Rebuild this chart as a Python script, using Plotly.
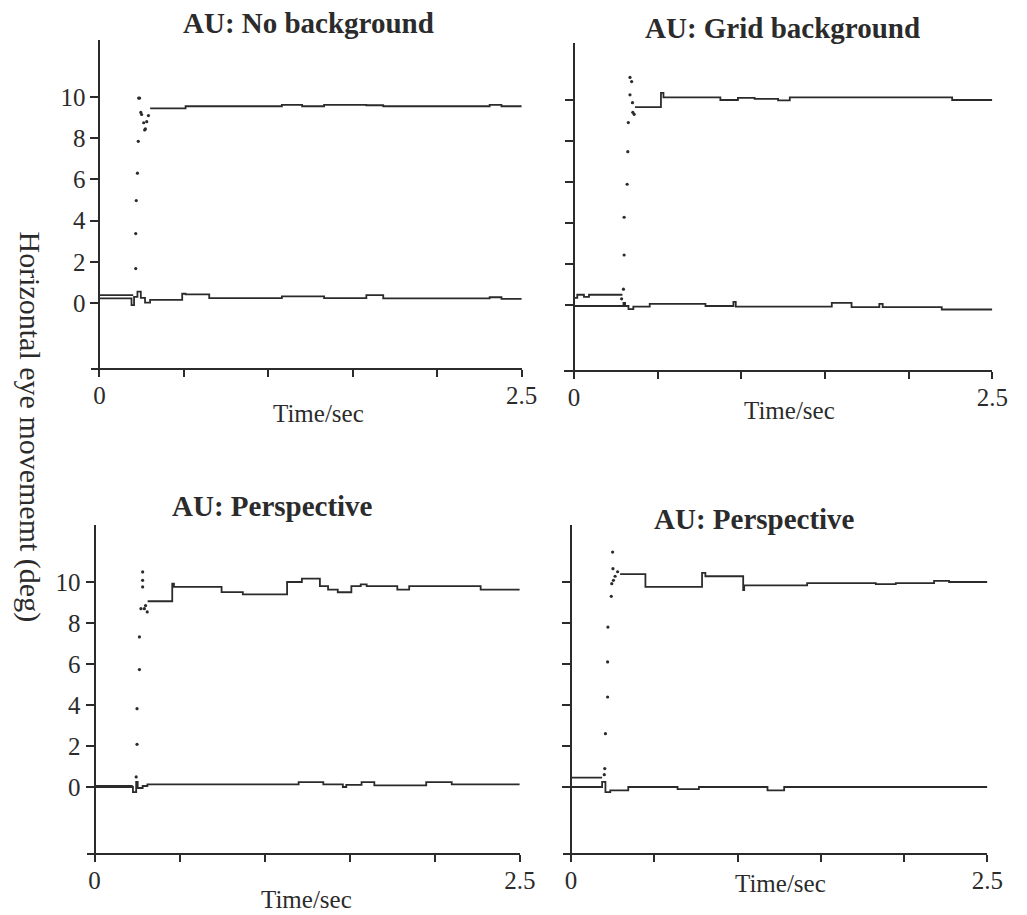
import plotly.graph_objects as go

# ---- data ----
# each panel: upper trace (target eye, jumps to ~10 deg), saccade samples, lower trace (~0 deg)

nb_up_t = [0.0, 0.20, None, 0.30, 0.51, 1.08, 1.20, 1.33, 1.58, 1.68, 2.31, 2.38, 2.5]
nb_up_v = [0.38, 0.38, None, 9.45, 9.55, 9.62, 9.55, 9.62, 9.6, 9.55, 9.62, 9.55, 9.55]
nb_sac_t = [0.215, 0.215, 0.218, 0.225, 0.23, 0.232, 0.238, 0.245, 0.25, 0.262, 0.268, 0.272, 0.28, 0.29]
nb_sac_v = [1.67, 3.37, 4.97, 6.3, 7.85, 9.95, 9.95, 9.25, 9.15, 8.75, 8.4, 8.45, 8.8, 9.1]
nb_lo_t = [0.0, 0.19, 0.205, 0.225, 0.245, 0.27, 0.30, 0.49, 0.51, 0.65, 1.08, 1.33, 1.58, 1.68, 2.31, 2.38, 2.5]
nb_lo_v = [0.22, -0.1, 0.3, 0.55, 0.25, 0.02, 0.15, 0.45, 0.42, 0.24, 0.32, 0.24, 0.38, 0.22, 0.28, 0.2, 0.2]

grid_up_t = [0.0, 0.02, 0.06, 0.09, 0.29, None, 0.365, 0.52, 0.535, 0.875, 0.98, 1.08, 1.22, 1.29, 2.26, 2.5]
grid_up_v = [0.35, 0.5, 0.4, 0.5, 0.5, None, 9.65, 10.35, 10.13, 10.0, 10.1, 10.05, 9.98, 10.13, 10.0, 10.0]
grid_sac_t = [0.285, 0.296, 0.30, 0.30, 0.318, 0.322, 0.325, 0.335, 0.345, 0.335, 0.35, 0.352, 0.36]
grid_sac_v = [0.3, 0.77, 2.44, 4.28, 5.89, 7.48, 8.9, 10.25, 10.9, 11.1, 9.87, 9.4, 9.3]
grid_lo_t = [0.0, 0.296, 0.306, 0.326, 0.355, 0.453, 0.786, 0.953, 0.967, 1.541, 1.659, 1.825, 1.845, 2.198, 2.5]
grid_lo_v = [-0.05, 0.1, -0.05, -0.2, -0.08, 0.05, -0.05, 0.15, -0.08, 0.1, -0.1, 0.05, -0.1, -0.22, -0.22]

pa_up_t = [0.0, 0.225, None, 0.3125, 0.457, 0.467, 0.747, 0.872, 1.132, 1.219, 1.325, 1.373, 1.43, 1.51, 1.565, 1.6, 1.78, 1.85, 2.27, 2.5]
pa_up_v = [0.05, 0.05, None, 9.06, 9.92, 9.76, 9.51, 9.4, 10.0, 10.16, 9.8, 9.63, 9.5, 9.8, 9.88, 9.8, 9.63, 9.8, 9.63, 9.63]
pa_sac_t = [0.245, 0.25, 0.25, 0.264, 0.264, 0.283, 0.283, 0.283, 0.273, 0.293, 0.31, 0.30]
pa_sac_v = [0.49, 2.08, 3.82, 5.73, 7.32, 10.49, 10.08, 9.76, 8.7, 8.7, 8.54, 8.85]
pa_lo_t = [0.0, 0.226, 0.245, 0.254, 0.283, 0.311, 1.2, 1.345, 1.46, 1.48, 1.57, 1.645, 1.95, 2.1, 2.5]
pa_lo_v = [0.0, -0.25, 0.25, -0.05, 0.05, 0.13, 0.24, 0.13, 0.0, 0.1, 0.24, 0.08, 0.24, 0.13, 0.13]

pb_up_t = [0.0, 0.187, None, 0.295, 0.447, 0.787, 0.807, 1.034, 1.04, 1.418, 1.83, 1.95, 2.18, 2.27, 2.5]
pb_up_v = [0.46, 0.46, None, 10.38, 9.76, 10.45, 10.28, 9.6, 9.84, 9.95, 9.9, 9.95, 10.05, 10.0, 10.0]
pb_sac_t = [0.2, 0.203, 0.207, 0.22, 0.22, 0.222, 0.242, 0.245, 0.252, 0.25, 0.255, 0.265, 0.28]
pb_sac_v = [0.6, 0.9, 2.6, 4.39, 6.1, 7.8, 9.3, 9.92, 10.65, 11.46, 10.08, 10.28, 10.5]
pb_lo_t = [0.0, 0.187, 0.207, 0.236, 0.344, 0.64, 0.768, 1.18, 1.28, 2.5]
pb_lo_v = [0.0, 0.25, -0.25, -0.16, 0.0, -0.1, 0.0, -0.16, 0.0, 0.0]

panel_titles = ["AU: No background", "AU: Grid background", "AU: Perspective", "AU: Perspective"]
y_ticks = [0, 2, 4, 6, 8, 10]
x_ticks = [0, 0.5, 1.0, 1.5, 2.0, 2.5]
x_ticktext = ["0", "", "", "", "", "2.5"]
x_title = "Time/sec"
y_title = "Horizontal eye movememt (deg)"

panels = [
    (nb_up_t, nb_up_v, nb_sac_t, nb_sac_v, nb_lo_t, nb_lo_v),
    (grid_up_t, grid_up_v, grid_sac_t, grid_sac_v, grid_lo_t, grid_lo_v),
    (pa_up_t, pa_up_v, pa_sac_t, pa_sac_v, pa_lo_t, pa_lo_v),
    (pb_up_t, pb_up_v, pb_sac_t, pb_sac_v, pb_lo_t, pb_lo_v),
]

# ---- layout in pixels ----
W, H = 1027, 915
INK = "#2b2b2b"
FONT = "Liberation Serif, Times New Roman, serif"

# (x-axis left end, y-axis x, x-axis right end, axis top, axis bottom, y at 0, y at 10)
boxes = [
    (92, 101, 530, 40, 368, 303, 97),
    (573, 583, 1008, 43, 370, 305, 100),
    (88, 96, 528, 525, 853, 787, 582),
    (572, 580, 1003, 525, 853, 787, 582),
]
title_pos = [(313, 23), (795, 28), (277, 506), (766, 519)]
xtitle_pos = [(324, 413), (802, 410), (311, 899), (793, 883)]


def px(x):
    return x / W


def py(y):
    return 1 - y / H


fig = go.Figure()

for i, (up_t, up_v, sac_t, sac_v, lo_t, lo_v) in enumerate(panels):
    xa = "x" if i == 0 else "x%d" % (i + 1)
    ya = "y" if i == 0 else "y%d" % (i + 1)
    for t, v in [(lo_t, lo_v), (up_t, up_v)]:
        fig.add_trace(
            go.Scatter(
                x=t, y=v, xaxis=xa, yaxis=ya,
                mode="lines", line=dict(color=INK, width=1.8, shape="hv"),
                connectgaps=False, showlegend=False, hoverinfo="skip",
            )
        )
    # saccade samples drawn as loose dots
    fig.add_trace(
        go.Scatter(
            x=sac_t, y=sac_v, xaxis=xa, yaxis=ya,
            mode="markers", marker=dict(color=INK, size=3.2),
            showlegend=False, hoverinfo="skip",
        )
    )

layout = dict(
    width=W, height=H,
    margin=dict(l=0, r=0, t=0, b=0),
    paper_bgcolor="white", plot_bgcolor="white",
    font=dict(family=FONT, color=INK, size=25),
    showlegend=False,
)

annotations = []
for i, (xl, yx, xr, top, bot, y0, y10) in enumerate(boxes):
    k = "" if i == 0 else str(i + 1)
    ppu_x = (xr - yx) / 2.5
    ppu_y = (y0 - y10) / 10.0
    layout["xaxis" + k] = dict(
        domain=[px(xl), px(xr)],
        range=[-(yx - xl) / ppu_x, 2.5],
        anchor="y" + k,
        showline=True, linewidth=2, linecolor=INK,
        ticks="outside", ticklen=7, tickwidth=2, tickcolor=INK,
        tickvals=x_ticks, ticktext=x_ticktext,
        tickfont=dict(size=25), ticklabelstandoff=-3,
        showgrid=False, zeroline=False,
    )
    layout["yaxis" + k] = dict(
        domain=[py(bot), py(top)],
        range=[-(bot - y0) / ppu_y, (y0 - top) / ppu_y],
        anchor="free", position=px(yx),
        showline=True, linewidth=2, linecolor=INK,
        ticks="outside", ticklen=8, tickwidth=2, tickcolor=INK,
        tickvals=y_ticks, showticklabels=(i % 2 == 0),
        tickfont=dict(size=25),
        showgrid=False, zeroline=False,
    )
    tx, ty = title_pos[i]
    annotations.append(dict(
        text="<b>%s</b>" % panel_titles[i], x=px(tx), y=py(ty),
        xref="paper", yref="paper", xanchor="center", yanchor="middle",
        showarrow=False, font=dict(size=29, family=FONT, color=INK),
    ))
    ax, ay = xtitle_pos[i]
    annotations.append(dict(
        text=x_title, x=px(ax), y=py(ay),
        xref="paper", yref="paper", xanchor="center", yanchor="middle",
        showarrow=False, font=dict(size=25, family=FONT, color=INK),
    ))

# shared y title, reading top to bottom
annotations.append(dict(
    text=y_title, x=px(30), y=py(427), textangle=90,
    xref="paper", yref="paper", xanchor="center", yanchor="middle",
    showarrow=False, font=dict(size=30, family=FONT, color=INK),
))
layout["annotations"] = annotations

fig.update_layout(**layout)

# the page body has an 8px default margin; drop it so the figure sits at the window corner
fig.write_html(
    "out.html",
    config={"displayModeBar": False},
    post_script="document.body.style.margin='0';document.body.style.overflow='hidden';",
)
